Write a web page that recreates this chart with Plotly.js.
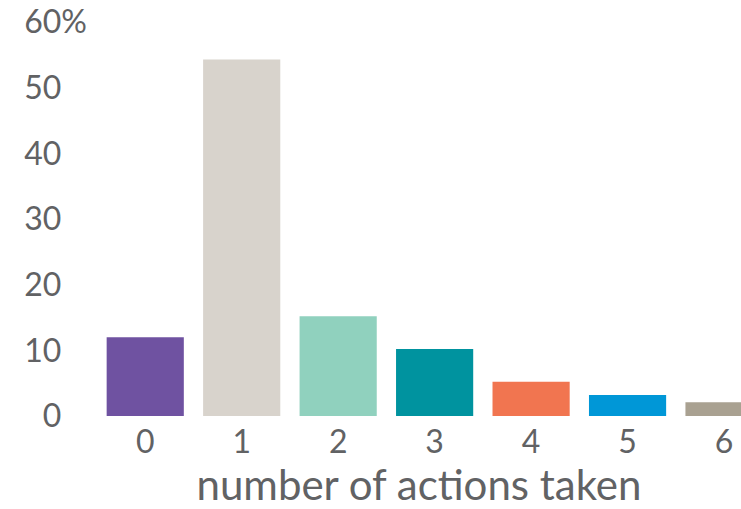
<!DOCTYPE html>
<html>
<head>
<meta charset="utf-8">
<script src="https://cdn.plot.ly/plotly-3.0.1.min.js"></script>
<style>html,body{margin:0;padding:0;background:#fff;}#chart{width:741px;height:509px;}</style>
</head>
<body>
<div id="chart"></div>
<script>
const categories = ["0", "1", "2", "3", "4", "5", "6"];
const shares = [12, 54.3, 15.2, 10.2, 5.2, 3.2, 2.1];
const barColors = ["#6f52a1", "#d8d3cc", "#90d1be", "#00939f", "#f17550", "#0097d7", "#a9a191"];
const yTickVals = [0, 10, 20, 30, 40, 50, 60];
const hid = "<span style='color:rgba(0,0,0,0)'>%</span>";
const yTickText = ["0" + hid, "10" + hid, "20" + hid, "30" + hid, "40" + hid, "50" + hid, "60%"];

const textColor = "#616264";
const font = {family: "Lato, 'Open Sans', sans-serif", size: 32, color: textColor};
const titleFont = {family: "Lato, 'Open Sans', sans-serif", size: 42, color: textColor};

Plotly.newPlot("chart", [{
  type: "bar",
  x: categories.map(Number),
  y: shares,
  marker: {color: barColors},
  width: 0.8,
  hoverinfo: "none"
}], {
  width: 741, height: 509,
  margin: {l: 97, r: 0, t: 22.4, b: 93, pad: 0},
  paper_bgcolor: "#fff", plot_bgcolor: "#fff",
  font: font,
  showlegend: false,
  xaxis: {
    range: [-0.5, 6.176],
    tickvals: categories.map(Number),
    ticktext: categories,
    showgrid: false, zeroline: false, showline: false,
    ticks: "", ticklabelstandoff: 4,
    tickfont: font,
    title: {text: "number of actions taken", font: titleFont, standoff: 22}
  },
  yaxis: {
    range: [0, 60],
    tickvals: yTickVals,
    ticktext: yTickText,
    showgrid: false, zeroline: false, showline: false,
    ticks: "", ticklabelstandoff: 9,
    tickfont: font
  }
}, {staticPlot: true});
</script>
</body>
</html>
